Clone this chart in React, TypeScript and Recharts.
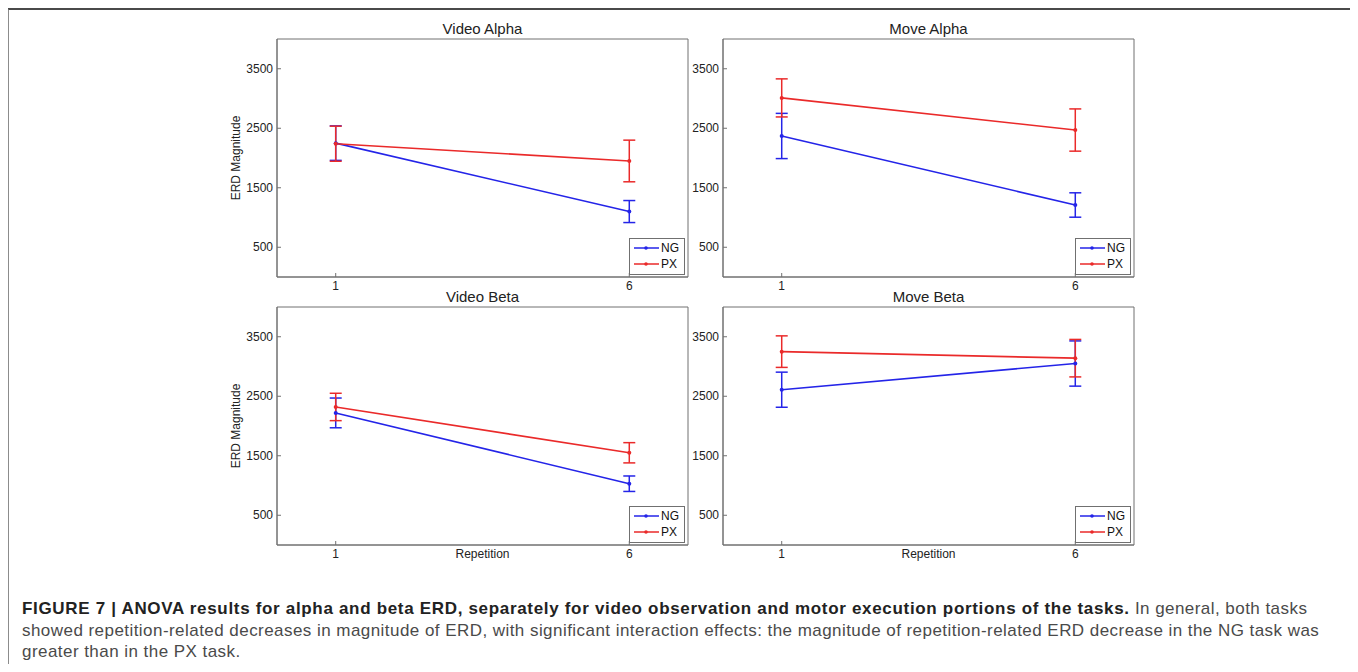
import React from 'react';
import { LineChart, Line, XAxis, YAxis, ErrorBar, Legend, ReferenceArea } from 'recharts';

// x positions and tick values
const repetitions = [1, 6];
const xTicks = [1, 6];
const yTicks = [500, 1500, 2500, 3500];
const xDomain = [0, 7];
const yDomain = [0, 4000];

// ERD magnitude (mean) and error half-widths at repetition 1 and 6
const ngVideoAlpha = [2250, 1100];
const ngErrVideoAlpha = [290, 185];
const pxVideoAlpha = [2240, 1950];
const pxErrVideoAlpha = [295, 350];

const ngMoveAlpha = [2370, 1210];
const ngErrMoveAlpha = [380, 205];
const pxMoveAlpha = [3010, 2470];
const pxErrMoveAlpha = [320, 355];

const ngVideoBeta = [2220, 1030];
const ngErrVideoBeta = [250, 130];
const pxVideoBeta = [2320, 1550];
const pxErrVideoBeta = [230, 170];

const ngMoveBeta = [2610, 3050];
const ngErrMoveBeta = [295, 380];
const pxMoveBeta = [3250, 3140];
const pxErrMoveBeta = [265, 315];

const BLUE = '#2424e8';
const RED = '#ea2a2a';
const AXIS = '#707070';
const FONT = '"Liberation Sans", Arial, Helvetica, sans-serif';

// chart box: margins + axis sizes around a 411 x 238 plot
const M_TOP = 28;
const M_LEFT = 27;
const Y_W = 60;
const X_H = 34;
const PLOT_W = 411;
const PLOT_H = 238;
const CHART_W = M_LEFT + Y_W + PLOT_W + 20;
const CHART_H = M_TOP + PLOT_H + X_H;

function buildRows(ng: number[], ngErr: number[], px: number[], pxErr: number[]) {
  return repetitions.map((rep, i) => ({ rep, ng: ng[i], ngErr: ngErr[i], px: px[i], pxErr: pxErr[i] }));
}

const XTick = (props: any) => {
  const { x, y, payload } = props;
  return (
    <g>
      <line x1={x} x2={x} y1={y} y2={y - 4} stroke={AXIS} />
      <text x={x} y={y + 9} textAnchor="middle" dominantBaseline="central" fontSize={12} fill="#222" fontFamily={FONT}>
        {payload.value}
      </text>
    </g>
  );
};

const YTick = (props: any) => {
  const { x, y, payload } = props;
  return (
    <g>
      <line x1={x} x2={x + 4} y1={y} y2={y} stroke={AXIS} />
      <text x={x - 4} y={y} textAnchor="end" dominantBaseline="central" fontSize={12} fill="#222" fontFamily={FONT}>
        {payload.value}
      </text>
    </g>
  );
};

const renderLegend = (props: any) => (
  <div style={{ width: 56, height: 37, boxSizing: 'border-box', border: `1px solid ${AXIS}`, background: '#fff' }}>
    <svg width={54} height={35} style={{ display: 'block' }}>
      {(props.payload || []).map((p: any, i: number) => (
        <g key={p.value}>
          <line x1={4} x2={29} y1={9 + 16 * i} y2={9 + 16 * i} stroke={p.color} strokeWidth={1.5} />
          <circle cx={16} cy={9 + 16 * i} r={1.8} fill={p.color} />
          <text x={31} y={9 + 16 * i} dominantBaseline="central" fontSize={12} fill="#111" fontFamily={FONT}>
            {p.value}
          </text>
        </g>
      ))}
    </svg>
  </div>
);

type PanelProps = {
  title: string;
  ng: number[];
  ngErr: number[];
  px: number[];
  pxErr: number[];
  left: number;
  top: number;
  yLabel?: boolean;
  xLabel?: boolean;
};

function Panel({ title, ng, ngErr, px, pxErr, left, top, yLabel, xLabel }: PanelProps) {
  const rows = buildRows(ng, ngErr, px, pxErr);
  return (
    <div style={{ position: 'absolute', left, top, width: CHART_W, height: CHART_H }}>
      <div style={{
        position: 'absolute', left: M_LEFT + Y_W, top: M_TOP - 18, width: PLOT_W,
        textAlign: 'center', fontSize: 15, lineHeight: '15px', color: '#222', fontFamily: FONT,
      }}>{title}</div>
      <LineChart width={CHART_W} height={CHART_H} data={rows}
        margin={{ top: M_TOP, right: 20, bottom: 0, left: M_LEFT }}>
        <XAxis dataKey="rep" type="number" domain={xDomain} ticks={xTicks} height={X_H}
          stroke={AXIS} tickSize={0} tickMargin={0} tickLine={false} tick={<XTick />}
          label={xLabel ? (p: any) => (
            <text x={p.viewBox.x + p.viewBox.width / 2} y={p.viewBox.y + 9} textAnchor="middle"
              dominantBaseline="central" fontSize={12} fill="#222" fontFamily={FONT}>Repetition</text>
          ) : undefined} />
        <XAxis xAxisId="top" orientation="top" type="number" domain={xDomain} ticks={xTicks} height={0}
          mirror stroke={AXIS} tickSize={4} tick={false} />
        <YAxis type="number" domain={yDomain} ticks={yTicks} width={Y_W} stroke={AXIS}
          tickSize={0} tickMargin={0} tickLine={false} tick={<YTick />}
          label={yLabel ? (p: any) => {
            const cx = p.viewBox.x + 19;
            const cy = p.viewBox.y + p.viewBox.height / 2;
            return (
              <text x={cx} y={cy} transform={`rotate(-90 ${cx} ${cy})`} textAnchor="middle"
                dominantBaseline="central" fontSize={12} fill="#222" fontFamily={FONT}>ERD Magnitude</text>
            );
          } : undefined} />
        <YAxis yAxisId="right" orientation="right" type="number" domain={yDomain} ticks={yTicks} width={0}
          mirror stroke={AXIS} tickSize={4} tick={false} />
        {/* axes box */}
        <ReferenceArea x1={xDomain[0]} x2={xDomain[1]} y1={yDomain[0]} y2={yDomain[1]}
          fill="none" fillOpacity={0} stroke={AXIS} strokeWidth={1} />
        <Legend layout="vertical" align="center" verticalAlign="middle" content={renderLegend}
          wrapperStyle={{ left: M_LEFT + Y_W + PLOT_W - 59, top: M_TOP + PLOT_H - 39, width: 56, height: 37 }} />
        <Line dataKey="ng" name="NG" stroke={BLUE} strokeWidth={1.6} isAnimationActive={false}
          dot={{ r: 2, fill: BLUE, stroke: BLUE, strokeWidth: 0 }} activeDot={false}>
          <ErrorBar dataKey="ngErr" width={6} stroke={BLUE} strokeWidth={1.5} isAnimationActive={false} />
        </Line>
        <Line dataKey="px" name="PX" stroke={RED} strokeWidth={1.6} isAnimationActive={false}
          dot={{ r: 2, fill: RED, stroke: RED, strokeWidth: 0 }} activeDot={false}>
          <ErrorBar dataKey="pxErr" width={6} stroke={RED} strokeWidth={1.5} isAnimationActive={false} />
        </Line>
      </LineChart>
    </div>
  );
}

export default function App() {
  return (
    <div style={{ position: 'relative', width: 1358, height: 672, margin: -8, background: '#fff', overflow: 'hidden', fontFamily: FONT }}>
      <div style={{
        position: 'absolute', left: 7, top: 8, width: 1347, height: 700,
        borderTop: '2px solid #4a4a4a', borderLeft: '2px solid #8c8c8c', borderRight: '2px solid #8c8c8c',
      }} />
      <Panel title="Video Alpha" ng={ngVideoAlpha} ngErr={ngErrVideoAlpha} px={pxVideoAlpha} pxErr={pxErrVideoAlpha}
        left={190} top={11} yLabel />
      <Panel title="Move Alpha" ng={ngMoveAlpha} ngErr={ngErrMoveAlpha} px={pxMoveAlpha} pxErr={pxErrMoveAlpha}
        left={636} top={11} />
      <Panel title="Video Beta" ng={ngVideoBeta} ngErr={ngErrVideoBeta} px={pxVideoBeta} pxErr={pxErrVideoBeta}
        left={190} top={279} yLabel xLabel />
      <Panel title="Move Beta" ng={ngMoveBeta} ngErr={ngErrMoveBeta} px={pxMoveBeta} pxErr={pxErrMoveBeta}
        left={636} top={279} xLabel />
      <div style={{
        position: 'absolute', left: 22, top: 598, fontSize: 17, letterSpacing: 0.45, lineHeight: '21.5px',
        whiteSpace: 'nowrap', color: '#4a4a4a',
      }}>
        <span style={{ fontWeight: 700, color: '#222', letterSpacing: 0.68 }}>
          FIGURE 7 | ANOVA results for alpha and beta ERD, separately for video observation and motor execution portions of the tasks.
        </span>{' '}In general, both tasks
        <br />
        showed repetition-related decreases in magnitude of ERD, with significant interaction effects: the magnitude of repetition-related ERD decrease in the NG task was
        <br />
        greater than in the PX task.
      </div>
    </div>
  );
}
